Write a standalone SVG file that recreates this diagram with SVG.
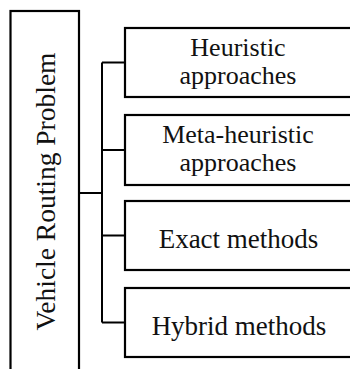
<svg xmlns="http://www.w3.org/2000/svg" width="350" height="369" viewBox="0 0 350 369">
  <style>
    .box { fill: #ffffff; stroke: #000000; stroke-width: 2.2; }
    .conn { fill: none; stroke: #000000; stroke-width: 2; }
    .lbl { font-family: "Liberation Serif", "Times New Roman", serif; font-size: 27px; fill: #111111; text-anchor: middle; }
    .two { font-size: 26px; }
    .vlbl { font-size: 27.5px; }
  </style>
  <rect width="350" height="369" fill="#ffffff"/>
  <g id="connectors">
    <path class="conn" d="M79 193 H102 M102 62.5 V322.5 M102 62.5 H125 M102 150 H125 M102 235.5 H125 M102 322.5 H125"/>
  </g>
  <g id="vrp">
    <rect class="box" x="10.5" y="11" width="68.5" height="380"/>
    <text class="lbl vlbl" transform="translate(55,191.5) rotate(-90)">Vehicle Routing Problem</text>
  </g>
  <g id="heuristic">
    <rect class="box" x="125" y="28" width="240" height="69"/>
    <text class="lbl two" x="238" y="56">Heuristic</text>
    <text class="lbl two" x="238" y="83.5">approaches</text>
  </g>
  <g id="metaheuristic">
    <rect class="box" x="125" y="115" width="240" height="70"/>
    <text class="lbl two" x="238" y="143">Meta-heuristic</text>
    <text class="lbl two" x="238" y="170.5">approaches</text>
  </g>
  <g id="exact">
    <rect class="box" x="125" y="201" width="240" height="69"/>
    <text class="lbl" x="238.5" y="248">Exact methods</text>
  </g>
  <g id="hybrid">
    <rect class="box" x="125" y="288" width="240" height="69"/>
    <text class="lbl" x="239" y="335">Hybrid methods</text>
  </g>
</svg>
